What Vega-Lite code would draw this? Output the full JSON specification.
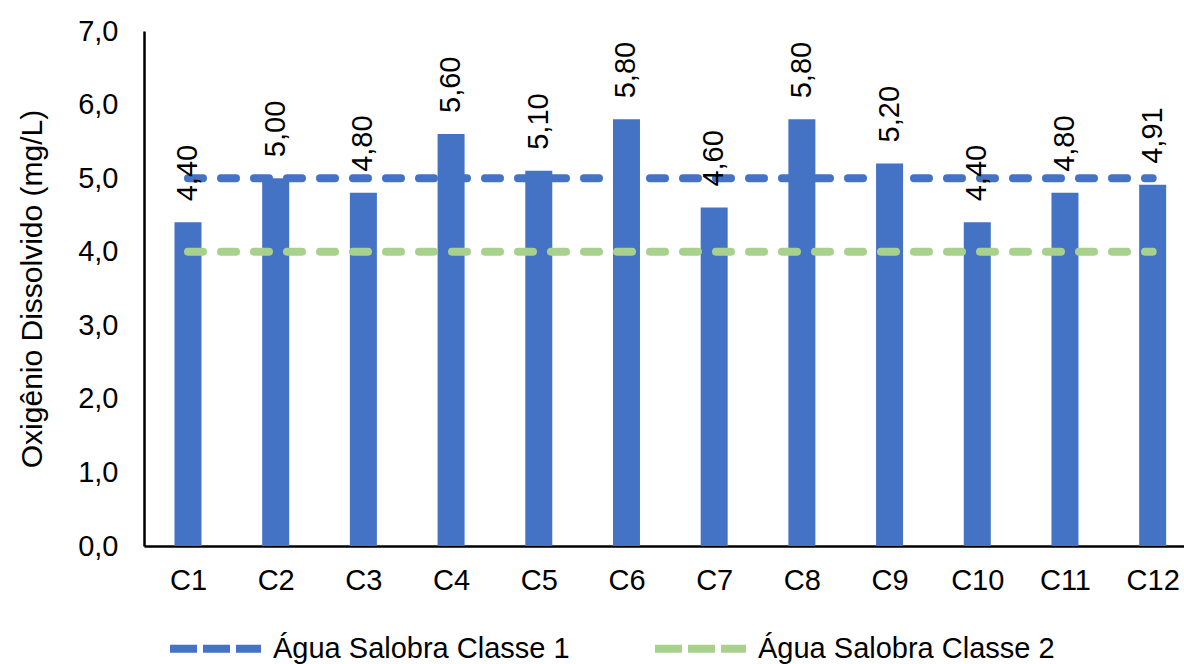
{
  "$schema": "https://vega.github.io/schema/vega-lite/v6.json",
  "width": 1040,
  "height": 515,
  "autosize": {"type": "none"},
  "padding": {"left": 144, "top": 31, "right": 0, "bottom": 118},
  "config": {
    "font": "Liberation Sans",
    "view": {"stroke": null},
    "locale": {"number": {"decimal": ",", "thousands": ".", "grouping": [3], "currency": ["R$", ""]}},
    "axis": {"labelColor": "#000000", "titleColor": "#000000", "domainColor": "#000000", "grid": false, "ticks": false, "tickSize": 0}
  },
  "datasets": {
    "pontos": [
      {"ponto": "C1", "od": 4.40},
      {"ponto": "C2", "od": 5.00},
      {"ponto": "C3", "od": 4.80},
      {"ponto": "C4", "od": 5.60},
      {"ponto": "C5", "od": 5.10},
      {"ponto": "C6", "od": 5.80},
      {"ponto": "C7", "od": 4.60},
      {"ponto": "C8", "od": 5.80},
      {"ponto": "C9", "od": 5.20},
      {"ponto": "C10", "od": 4.40},
      {"ponto": "C11", "od": 4.80},
      {"ponto": "C12", "od": 4.91}
    ],
    "limites": [
      {"serie": "Água Salobra Classe 1", "valor": 5.0, "inicio": "C1", "fim": "C12"},
      {"serie": "Água Salobra Classe 2", "valor": 4.0, "inicio": "C1", "fim": "C12"}
    ]
  },
  "layer": [
    {
      "data": {"name": "pontos"},
      "mark": {"type": "bar", "width": 27, "color": "#4472C4"},
      "encoding": {
        "x": {
          "field": "ponto", "type": "nominal", "sort": null,
          "scale": {"type": "point", "padding": 0.4295, "align": 0.584},
          "axis": {"title": null, "labelAngle": 0, "labelFontSize": 29, "labelPadding": 20, "domainWidth": 2.5}
        },
        "y": {
          "field": "od", "type": "quantitative",
          "scale": {"domain": [0, 7], "nice": false},
          "axis": {"title": "Oxigênio Dissolvido (mg/L)", "values": [0, 1, 2, 3, 4, 5, 6, 7], "format": ".1f",
                   "labelFontSize": 29, "labelPadding": 26, "titleFontSize": 30, "titleFontWeight": "normal",
                   "titlePadding": 30, "domainWidth": 2.5}
        }
      }
    },
    {
      "data": {"name": "limites"},
      "mark": {"type": "rule", "strokeWidth": 8, "strokeDash": [15, 18], "strokeCap": "round"},
      "encoding": {
        "x": {"field": "inicio", "type": "nominal", "sort": null},
        "x2": {"field": "fim"},
        "y": {"field": "valor", "type": "quantitative"},
        "color": {
          "field": "serie", "type": "nominal",
          "scale": {"domain": ["Água Salobra Classe 1", "Água Salobra Classe 2"], "range": ["#4472C4", "#A9D18E"]},
          "legend": {
            "title": null, "orient": "none", "direction": "horizontal",
            "legendX": 22, "legendY": 568,
            "symbolType": "stroke", "symbolSize": 8281, "symbolStrokeWidth": 8, "symbolDash": [27, 6],
            "labelFontSize": 29, "labelColor": "#000000", "labelOffset": 8, "labelLimit": 0, "columnPadding": 69, "padding": 0
          }
        }
      }
    },
    {
      "data": {"name": "pontos"},
      "mark": {"type": "text", "angle": -90, "align": "left", "baseline": "middle", "dx": 21, "fontSize": 29, "color": "#000000"},
      "encoding": {
        "x": {"field": "ponto", "type": "nominal", "sort": null},
        "y": {"field": "od", "type": "quantitative"},
        "text": {"field": "od", "type": "quantitative", "format": ".2f"}
      }
    }
  ]
}
